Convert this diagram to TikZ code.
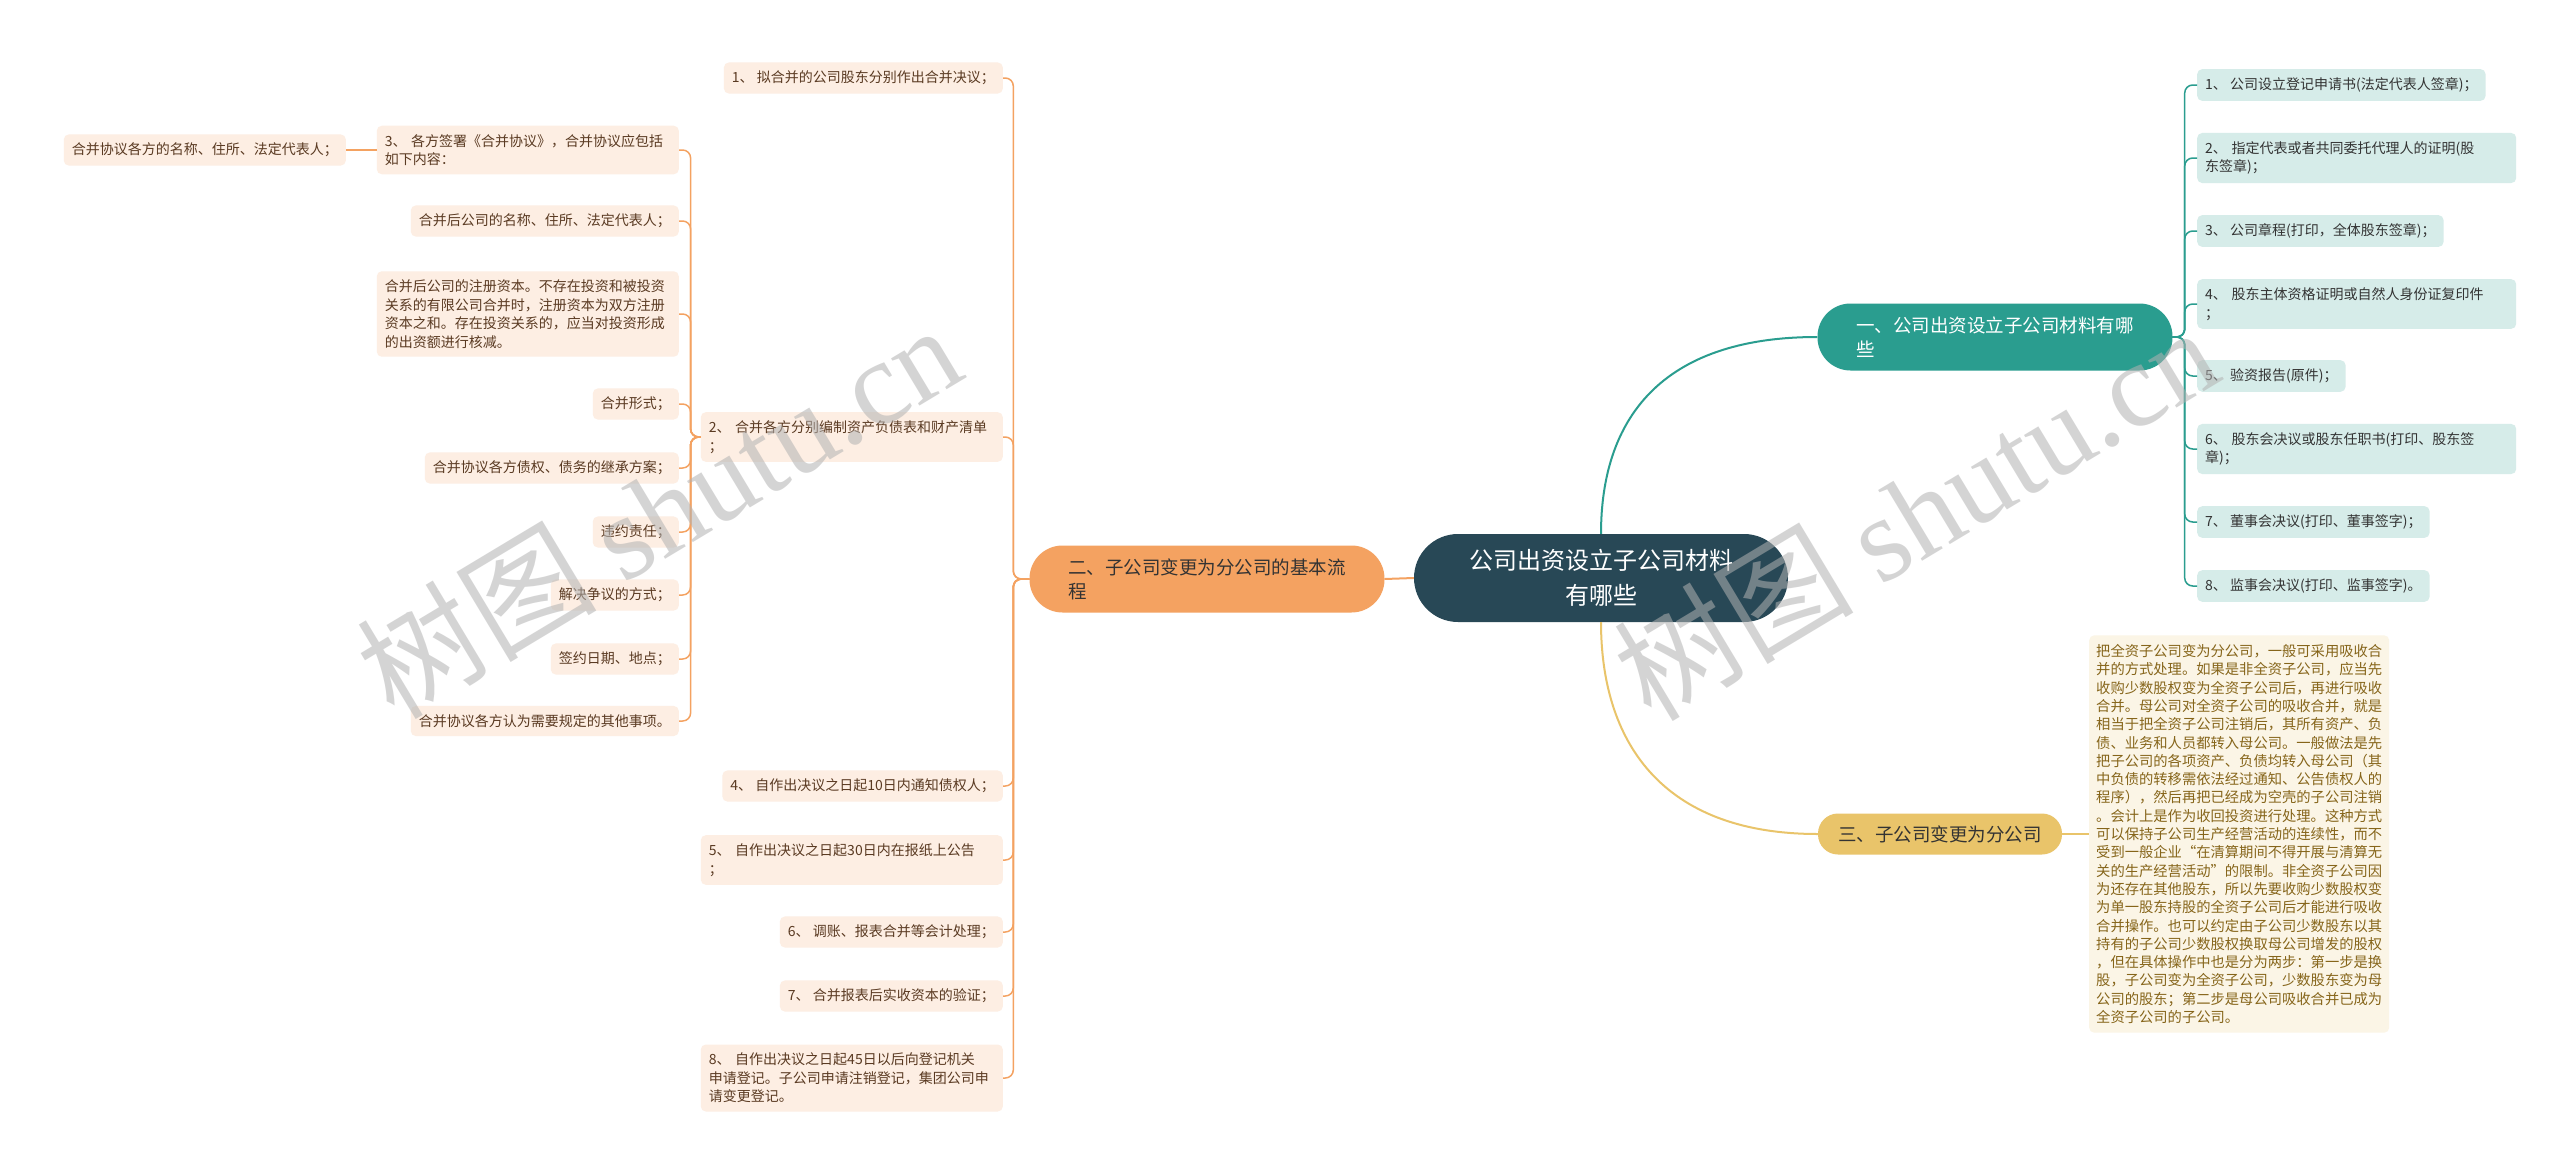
\documentclass[tikz,border=0pt]{standalone}
\usepackage{fontspec}
\setmainfont{Noto Sans CJK SC}
\newfontfamily\wmlatin{Liberation Serif}
\usetikzlibrary{positioning}

\definecolor{rootc}{HTML}{284856}
\definecolor{tealc}{HTML}{2A9D8F}
\definecolor{orangec}{HTML}{F4A261}
\definecolor{yellowc}{HTML}{E9C46A}
\definecolor{tleafc}{HTML}{D6ECE9}
\definecolor{oleafc}{HTML}{FDEEE3}
\definecolor{yleafc}{HTML}{FBF5E6}
\definecolor{otextc}{HTML}{5A3A22}
\definecolor{ytextc}{HTML}{86651A}
\definecolor{darkc}{HTML}{333333}

\begin{document}
\begin{tikzpicture}[x=1pt, y=-1pt,
    leaf/.style={rounded corners=5pt, inner xsep=8pt, inner ysep=8.5pt, align=left,
        font=\fontsize{14pt}{18.5pt}\selectfont},
    oleaf/.style={leaf, fill=oleafc, text=otextc},
    tleaf/.style={leaf, fill=tleafc, text=darkc},
    yleaf/.style={leaf, fill=yleafc, text=ytextc, inner xsep=7pt, inner ysep=9pt,
        font=\fontsize{14.3pt}{18.3pt}\selectfont},
    branch/.style={rounded corners=33pt, minimum width=355pt, minimum height=67pt,
        align=left, font=\fontsize{18.5pt}{24pt}\selectfont},
    ocon/.style={draw=orangec, line width=1.5pt, rounded corners=8pt},
    tcon/.style={draw=tealc, line width=1.5pt, rounded corners=8pt},
    ycon/.style={draw=yellowc, line width=2pt},
    wm/.style={text=black!30, text opacity=0.55, font=\fontsize{120pt}{120pt}\selectfont}]

    \fill[white] (0,0) rectangle (2560,1175);

    \node[fill=rootc, text=white, rounded corners=44pt, minimum width=374pt, minimum height=88pt,
        align=center, font=\fontsize{24pt}{35pt}\selectfont] at (1601, 578) (root)
        {公司出资设立子公司材料\\有哪些};

    \node[branch, fill=tealc, text=white] at (1995, 337) (b1) {一、公司出资设立子公司材料有哪\\些};
    \node[branch, fill=orangec, text=darkc] at (1207, 579) (b2) {二、子公司变更为分公司的基本流\\程};
    \node[branch, fill=yellowc, text=darkc, rounded corners=20pt, minimum width=244pt,
        minimum height=41pt] at (1940, 834) (b3) {三、子公司变更为分公司};

    \node[tleaf, anchor=west] at (2197, 85) (t1) {1、 公司设立登记申请书(法定代表人签章)；};
    \node[tleaf, anchor=west, text width=303pt] at (2197, 158) (t2) {2、 指定代表或者共同委托代理人的证明(股\\东签章)；};
    \node[tleaf, anchor=west] at (2197, 231) (t3) {3、 公司章程(打印，全体股东签章)；};
    \node[tleaf, anchor=west, text width=303pt] at (2197, 304) (t4) {4、 股东主体资格证明或自然人身份证复印件\\；};
    \node[tleaf, anchor=west] at (2197, 376) (t5) {5、 验资报告(原件)；};
    \node[tleaf, anchor=west, text width=303pt] at (2197, 449) (t6) {6、 股东会决议或股东任职书(打印、股东签\\章)；};
    \node[tleaf, anchor=west] at (2197, 522) (t7) {7、 董事会决议(打印、董事签字)；};
    \node[tleaf, anchor=west] at (2197, 586) (t8) {8、 监事会决议(打印、监事签字)。};

    \node[yleaf, anchor=west, text width=286pt] at (2089, 834) (y1)
        {把全资子公司变为分公司，一般可采用吸收合\\并的方式处理。如果是非全资子公司，应当先\\收购少数股权变为全资子公司后，再进行吸收\\合并。母公司对全资子公司的吸收合并，就是\\相当于把全资子公司注销后，其所有资产、负\\债、业务和人员都转入母公司。一般做法是先\\把子公司的各项资产、负债均转入母公司（其\\中负债的转移需依法经过通知、公告债权人的\\程序），然后再把已经成为空壳的子公司注销\\。会计上是作为收回投资进行处理。这种方式\\可以保持子公司生产经营活动的连续性，而不\\受到一般企业“在清算期间不得开展与清算无\\关的生产经营活动”的限制。非全资子公司因\\为还存在其他股东，所以先要收购少数股权变\\为单一股东持股的全资子公司后才能进行吸收\\合并操作。也可以约定由子公司少数股东以其\\持有的子公司少数股权换取母公司增发的股权\\，但在具体操作中也是分为两步：第一步是换\\股，子公司变为全资子公司，少数股东变为母\\公司的股东；第二步是母公司吸收合并已成为\\全资子公司的子公司。};

    \node[oleaf, anchor=east] at (1003, 78) (o1) {1、 拟合并的公司股东分别作出合并决议；};
    \node[oleaf, anchor=east, text width=286pt] at (1003, 437) (o2) {2、 合并各方分别编制资产负债表和财产清单\\；};
    \node[oleaf, anchor=east] at (1003, 786) (o4) {4、 自作出决议之日起10日内通知债权人；};
    \node[oleaf, anchor=east, text width=286pt] at (1003, 860) (o5) {5、 自作出决议之日起30日内在报纸上公告\\；};
    \node[oleaf, anchor=east] at (1003, 932) (o6) {6、 调账、报表合并等会计处理；};
    \node[oleaf, anchor=east] at (1003, 996) (o7) {7、 合并报表后实收资本的验证；};
    \node[oleaf, anchor=east, text width=286pt] at (1003, 1078) (o8) {8、 自作出决议之日起45日以后向登记机关\\申请登记。子公司申请注销登记，集团公司申\\请变更登记。};

    \node[oleaf, anchor=east, text width=286pt] at (679, 150) (p1) {3、 各方签署《合并协议》，合并协议应包括\\如下内容：};
    \node[oleaf, anchor=east] at (679, 221) (p2) {合并后公司的名称、住所、法定代表人；};
    \node[oleaf, anchor=east, text width=286pt] at (679, 314) (p3) {合并后公司的注册资本。不存在投资和被投资\\关系的有限公司合并时，注册资本为双方注册\\资本之和。存在投资关系的，应当对投资形成\\的出资额进行核减。};
    \node[oleaf, anchor=east] at (679, 404) (p4) {合并形式；};
    \node[oleaf, anchor=east] at (679, 468) (p5) {合并协议各方债权、债务的继承方案；};
    \node[oleaf, anchor=east] at (679, 532) (p6) {违约责任；};
    \node[oleaf, anchor=east] at (679, 595) (p7) {解决争议的方式；};
    \node[oleaf, anchor=east] at (679, 659) (p8) {签约日期、地点；};
    \node[oleaf, anchor=east] at (679, 721) (p9) {合并协议各方认为需要规定的其他事项。};
    \node[oleaf, anchor=east] at (346, 150) (q1) {合并协议各方的名称、住所、法定代表人；};

    \draw[tcon, line width=2pt] (root.north) .. controls (1601, 420) and (1660, 337) .. (b1.west);
    \draw[ycon] (root.south) .. controls (1601, 740) and (1660, 834) .. (b3.west);
    \draw[ocon, line width=2pt] (root.west) -- (b2.east);
    \draw[ycon] (b3.east) -- (y1.west);

    \draw[tcon] (b1.east) -- ++(12,0) |- (t1.west);
    \draw[tcon] (b1.east) -- ++(12,0) |- (t2.west);
    \draw[tcon] (b1.east) -- ++(12,0) |- (t3.west);
    \draw[tcon] (b1.east) -- ++(12,0) |- (t4.west);
    \draw[tcon] (b1.east) -- ++(12,0) |- (t5.west);
    \draw[tcon] (b1.east) -- ++(12,0) |- (t6.west);
    \draw[tcon] (b1.east) -- ++(12,0) |- (t7.west);
    \draw[tcon] (b1.east) -- ++(12,0) |- (t8.west);

    \draw[ocon] (b2.west) -- ++(-16,0) |- (o1.east);
    \draw[ocon] (b2.west) -- ++(-16,0) |- (o2.east);
    \draw[ocon] (b2.west) -- ++(-16,0) |- (o4.east);
    \draw[ocon] (b2.west) -- ++(-16,0) |- (o5.east);
    \draw[ocon] (b2.west) -- ++(-16,0) |- (o6.east);
    \draw[ocon] (b2.west) -- ++(-16,0) |- (o7.east);
    \draw[ocon] (b2.west) -- ++(-16,0) |- (o8.east);

    \draw[ocon] (o2.west) -- ++(-10,0) |- (p1.east);
    \draw[ocon] (o2.west) -- ++(-10,0) |- (p2.east);
    \draw[ocon] (o2.west) -- ++(-10,0) |- (p3.east);
    \draw[ocon] (o2.west) -- ++(-10,0) |- (p4.east);
    \draw[ocon] (o2.west) -- ++(-10,0) |- (p5.east);
    \draw[ocon] (o2.west) -- ++(-10,0) |- (p6.east);
    \draw[ocon] (o2.west) -- ++(-10,0) |- (p7.east);
    \draw[ocon] (o2.west) -- ++(-10,0) |- (p8.east);
    \draw[ocon] (o2.west) -- ++(-10,0) |- (p9.east);
    \draw[ocon] (p1.west) -- (q1.east);

    \node[wm, rotate=31] at (658, 510) (w1) {树图 {\wmlatin shutu.cn}};
    \node[wm, rotate=31] at (1915, 512) (w2) {树图 {\wmlatin shutu.cn}};
\end{tikzpicture}
\end{document}
